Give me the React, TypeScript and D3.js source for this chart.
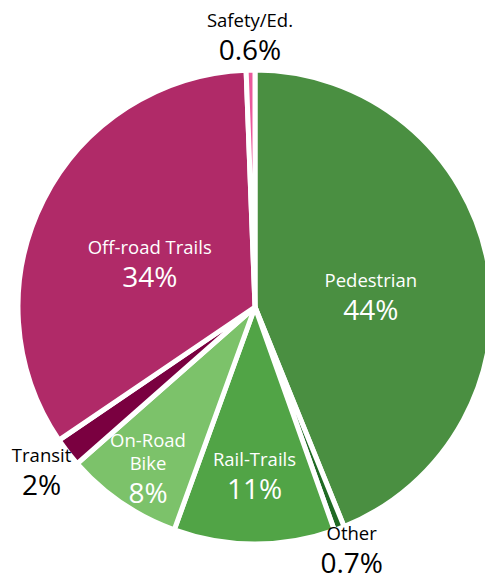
import React from "react";
import * as d3 from "d3";

const categories = ["Pedestrian", "Other", "Rail-Trails", "On-Road Bike", "Transit", "Off-road Trails", "Safety/Ed."];
const values = [44, 0.7, 11, 8, 2, 34, 0.6];
const percentLabels = ["44%", "0.7%", "11%", "8%", "2%", "34%", "0.6%"];
const nameLines = [["Pedestrian"], ["Other"], ["Rail-Trails"], ["On-Road", "Bike"], ["Transit"], ["Off-road Trails"], ["Safety/Ed."]];
const colors = ["#4a8f41", "#206a24", "#51a446", "#7cc26a", "#7a0040", "#b02a68", "#ea5a9c"];
const insideLabel = [true, false, true, true, false, true, false];
const labelRadius = [118, 272, 171, 190, 270, 118, 268];
const labelDy = [14, -10, 0, 6, 1, 12, -1];

const W = 485;
const H = 581;
const cx = 255;
const cy = 307;
const R = 237;

export default function App() {
  const total = d3.sum(values);
  const pie = d3
    .pie<number>()
    .sort(null)
    .value((d) => d)
    .startAngle(0)
    .endAngle((2 * Math.PI * total) / 100)(values);
  const arc = d3.arc<d3.PieArcDatum<number>>().innerRadius(0).outerRadius(R);
  const font = "'Open Sans', Lato, sans-serif";

  return (
    <div style={{ position: "absolute", left: 0, top: 0, width: W, height: H, background: "#fff" }}>
      <svg width={W} height={H} style={{ display: "block" }}>
        <g transform={`translate(${cx},${cy})`}>
          {pie.map((p, i) => (
            <path key={categories[i]} d={arc(p) || ""} fill={colors[i]} stroke="#fff" strokeWidth={5} strokeLinejoin="miter" />
          ))}
          {pie.map((p, i) => {
            const lr = labelRadius[i];
            const la = d3.arc<d3.PieArcDatum<number>>().innerRadius(lr).outerRadius(lr);
            const [x, c] = la.centroid(p);
            const y = c + labelDy[i];
            const lines = nameLines[i];
            const fill = insideLabel[i] ? "#fff" : "#000";
            const nameSize = 18.5;
            const pctSize = 28;
            const lineH = 23;
            const blockH = lines.length * lineH + 31;
            const top = y - blockH / 2;
            return (
              <g key={"l" + i} fill={fill} fontFamily={font} textAnchor="middle">
                {lines.map((ln, j) => (
                  <text key={j} x={x} y={top + 15.5 + j * lineH} fontSize={nameSize}>
                    {ln}
                  </text>
                ))}
                <text x={x} y={top + lines.length * lineH + 25.5} fontSize={pctSize}>
                  {percentLabels[i]}
                </text>
              </g>
            );
          })}
        </g>
      </svg>
    </div>
  );
}
